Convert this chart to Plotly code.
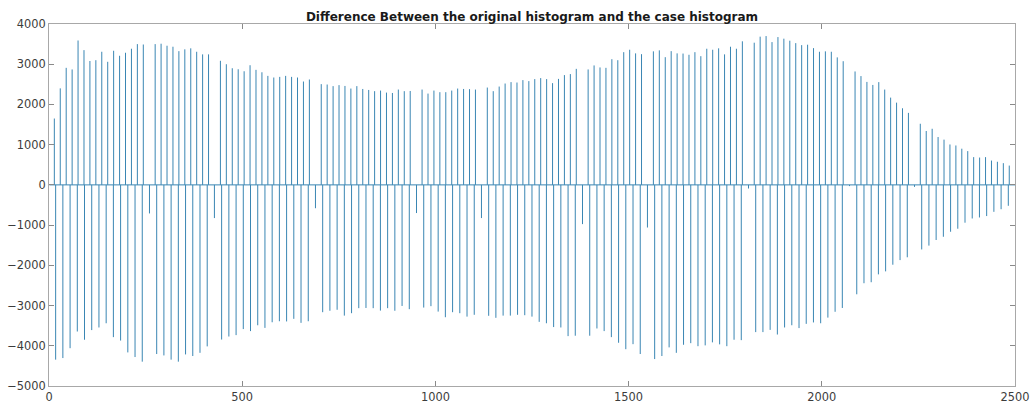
import numpy as np
import plotly.graph_objects as go

# Difference of two histograms: the original histogram occupies one comb of
# bins, the case histogram another; where the combs meet the difference is small.
N_BINS = 2500

# bin comb of each histogram (first occupied bin, spacing between occupied bins)
POS_START, POS_STEP = 13.8, 15.35
NEG_START, NEG_STEP = 17.2, 18.678

# positive differences (None where the bin is shared with the other comb)
pos_vals = [
    1650, 2400, 2910, 2870, 3590, 3350, 3080, 3100, 3310, 3060, 3335, 3210, 3285, 3385, 3500, 3490,
    None,
    3500, 3510, 3460, 3435, 3325, 3370, 3395, 3310, 3245, 3245,
    None,
    3085, 3000, 2900, 2875, 2825, 2975, 2860, 2800, 2710, 2670, 2685, 2710, 2685, 2670, 2570, 2620,
    None,
    2505, 2495, 2455, 2480, 2460,
    2395, 2455, 2385, 2360, 2330, 2345, 2295, 2285, 2370, 2330, 2335,
    None,
    2370, 2270, 2345, 2305, 2305, 2345, 2395, 2385, 2380, 2370,
    None,
    2420, 2330, 2445, 2520, 2555, 2545, 2605, 2580, 2630, 2655, 2630, 2530, 2635, 2730, 2755, 2885,
    None,
    2870, 2970, 2920, 2910, 3125, 3100, 3300, 3360, 3270, 3250,
    None,
    3320, 3345, 3175, 3325, 3270, 3265, 3235,
    3300, 3200, 3385, 3360, 3395, 3245, 3435, 3385, 3570,
    None,
    3535, 3685, 3700, 3550, 3675, 3635, 3585, 3525, 3475, 3485, 3400, 3310, 3320, 3310, 3170, 3075,
    None,
    2820, 2705, 2560, 2485, 2555, 2370, 2170, 2045, 1905, 1790,
    None,
    1520, 1340, 1395, 1190, 1125, 1005, 980, 900, 840, 690, 680, 690, 605, 575, 540, 480,
]

# negative differences
neg_vals = [
    -4345, -4305, -4060, -3645, -3850, -3610, -3545, -3440, -3785, -3870, -4165, -4280, -4395,
    -710,
    -4205, -4240, -4345, -4395, -4215, -4255, -4175, -4015,
    -825,
    -3845, -3770, -3735, -3585, -3635, -3490, -3555, -3415, -3390, -3395, -3330, -3430, -3390,
    -580,
    -3165, -3130, -3105, -3250, -3190, -3065, -3060, -3065, -3125, -3065, -3130, -3010, -3090,
    -700,
    -3050, -3015, -3150, -3290, -3165, -3190, -3275, -3230,
    -825,
    -3255, -3305, -3250, -3250, -3230, -3240, -3275, -3405, -3440, -3535, -3545, -3760, -3750,
    -975,
    -3750, -3570, -3635, -3785, -3925, -4085, -3960, -4205,
    -1060,
    -4330, -4255, -4040, -4175, -3975, -3935, -4010, -3990, -3915, -3965, -4010, -3850, -3860,
    -90,
    -3660, -3660, -3605, -3720, -3545, -3490, -3560, -3455, -3420, -3440, -3300, -3155, -3060,
    -30,
    -2720, -2445, -2420, -2225, -2150, -1985, -1870, -1800,
    -50,
    -1605, -1510, -1370, -1290, -1165, -1090, -940, -835, -810, -775, -670, -605, -520,
]

x_ticks = [0, 500, 1000, 1500, 2000, 2500]
y_ticks = [-5000, -4000, -3000, -2000, -1000, 0, 1000, 2000, 3000, 4000]

TITLE = "Difference Between the original histogram and the case histogram"
LINE_COLOR = "#3a86b3"

# bin position of every spike on its comb
pos_x = POS_START + POS_STEP * np.arange(len(pos_vals))
neg_x = NEG_START + NEG_STEP * np.arange(len(neg_vals))

# one vertical stroke per occupied bin, separated by gaps
seg_x, seg_y = [], []
for bx, v in list(zip(pos_x, pos_vals)) + list(zip(neg_x, neg_vals)):
    if v is None:
        continue
    seg_x += [bx, bx, None]
    seg_y += [0, v, None]

fig = go.Figure()
# the empty bins form the zero baseline of the difference vector
fig.add_trace(
    go.Scatter(
        x=[1, N_BINS], y=[0, 0], mode="lines",
        line=dict(color=LINE_COLOR, width=1), hoverinfo="skip",
    )
)
fig.add_trace(
    go.Scatter(
        x=seg_x, y=seg_y, mode="lines",
        line=dict(color=LINE_COLOR, width=1, simplify=False),
        connectgaps=False, hoverinfo="skip",
    )
)

axis_common = dict(
    showgrid=False,
    zeroline=False,
    showline=True,
    linecolor="#a8a8a8",
    linewidth=1,
    mirror="ticks",
    ticks="inside",
    ticklen=5,
    tickwidth=1,
    tickcolor="#8a8a8a",
    tickfont=dict(family="DejaVu Sans", size=11.4, color="#3c3c3c"),
    automargin=False,
)

fig.update_xaxes(range=[0, 2500], tickvals=x_ticks, **axis_common)
fig.update_yaxes(range=[-5000, 4000], tickvals=y_ticks, **axis_common)

fig.update_layout(
    width=1034,
    height=403,
    margin=dict(l=49, r=19, t=24, b=17),
    paper_bgcolor="white",
    plot_bgcolor="white",
    showlegend=False,
    title=dict(
        text=f"<b>{TITLE}</b>",
        x=0.5,
        xref="paper",
        xanchor="center",
        y=1 - 16.3 / 403,
        yref="container",
        yanchor="middle",
        font=dict(family="DejaVu Sans", size=12, color="#1a1a1a"),
    ),
)

fig.write_html("out.html")
